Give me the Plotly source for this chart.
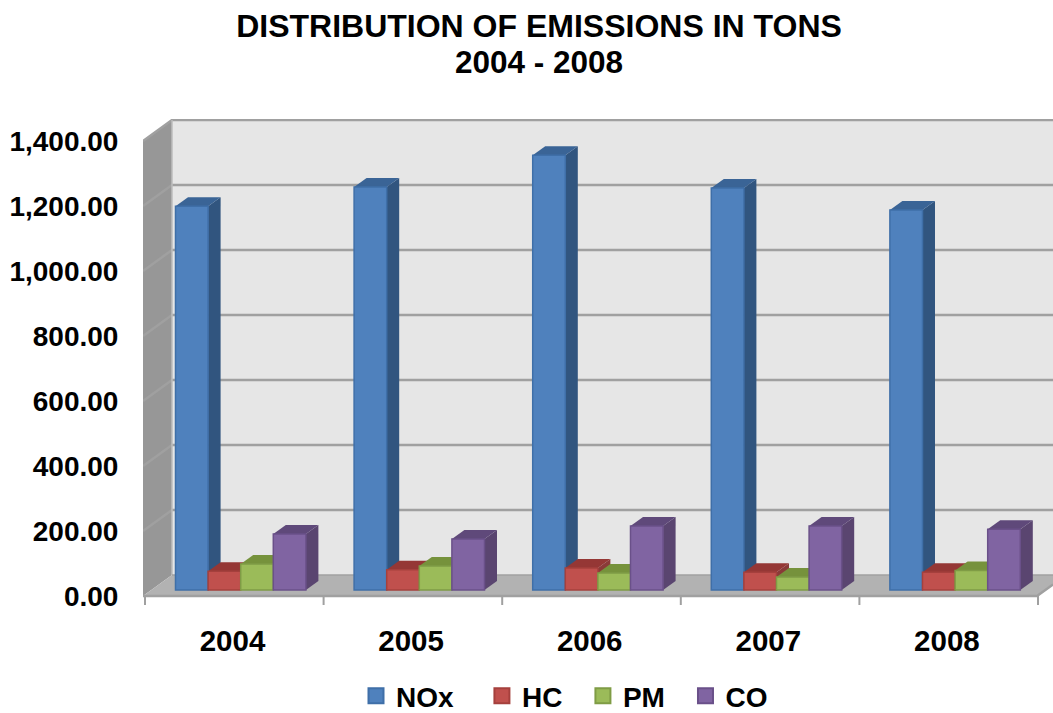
import plotly.graph_objects as go

years = ["2004", "2005", "2006", "2007", "2008"]
series_names = ["NOx", "HC", "PM", "CO"]
legend_pad = [3, 2, 2, 0]
nox = [1181, 1240, 1338, 1237, 1169]
hc = [58, 62, 68, 55, 55]
pm = [80, 74, 52, 40, 60]
co = [172, 157, 197, 197, 187]
y_ticks = [0, 200, 400, 600, 800, 1000, 1200, 1400]
y_tick_labels = ["0.00", "200.00", "400.00", "600.00", "800.00", "1,000.00", "1,200.00", "1,400.00"]

front_colors = ["#4F81BD", "#C0504D", "#9BBB59", "#8064A2"]
edge_colors = ["#3F6FA8", "#A5403D", "#7F9C45", "#6A5089"]
top_colors = ["#3A6496", "#953735", "#76923C", "#5F497A"]
side_colors = ["#31557F", "#8A3A38", "#6A8535", "#5A4570"]

W, H = 1053, 713
L, R, T, B = 143, 1053, 119, 606
PX_X = 178.6
PX_Y = 0.325
X0 = 145
Y0 = 596


def xd(px):
    return (px - X0) / PX_X


ydpx = lambda px: (Y0 - px) / PX_Y

depth_x, depth_y = 27 / PX_X, 21 / PX_Y
bar_dx, bar_dy = 12.5 / PX_X, 9 / PX_Y
bar_w = 32.6 / PX_X
bar_base = 6 / PX_Y
first_bar = 30.5 / PX_X
x_end = xd(R)

fig = go.Figure()


def poly(xs, ys, color, line=None, lw=0):
    fig.add_trace(go.Scatter(x=xs, y=ys, mode="lines", fill="toself", fillcolor=color,
                             line=dict(color=line or color, width=lw), hoverinfo="skip",
                             showlegend=False))


def seg(xs, ys, color="#A0A0A0", lw=2.5):
    fig.add_trace(go.Scatter(x=xs, y=ys, mode="lines", line=dict(color=color, width=lw),
                             hoverinfo="skip", showlegend=False))


top = y_ticks[-1]
# back wall, left wall, floor
poly([depth_x, x_end, x_end, depth_x], [depth_y, depth_y, top + depth_y, top + depth_y], "#E6E6E6")
poly([xd(143), depth_x, depth_x, xd(143)], [0, depth_y, top + depth_y, top], "#979797")
poly([xd(143), depth_x, x_end, x_end, xd(1037)], [0, depth_y, depth_y, depth_y * 0.55, 0], "#B2B2B2")
# gridlines
for v in y_ticks[1:]:
    seg([xd(143), depth_x, x_end], [v, v + depth_y, v + depth_y])
seg([depth_x, depth_x], [depth_y, top + depth_y], "#BDBDBD", 1.5)
seg([depth_x, x_end], [depth_y, depth_y], "#A0A0A0", 1.5)
seg([xd(143), xd(1037), x_end], [0, 0, depth_y * 0.55], "#A0A0A0", 2.5)
# category ticks
for i in range(len(years) + 1):
    seg([i, i], [0, -9 / PX_Y], "#A0A0A0", 2)

# depth faces of the bars, left to right
values = [nox, hc, pm, co]
for i in range(len(years)):
    for k, vals in enumerate(values):
        x1 = i + first_bar + k * bar_w
        x2 = x1 + bar_w
        y1 = bar_base
        y2 = bar_base + vals[i]
        poly([x2, x2 + bar_dx, x2 + bar_dx, x2], [y1, y1 + bar_dy, y2 + bar_dy, y2], side_colors[k])
        poly([x1, x2, x2 + bar_dx, x1 + bar_dx], [y2, y2, y2 + bar_dy, y2 + bar_dy], top_colors[k])

# front faces on an overlaid pair of axes, so they cover the depth faces
for k, vals in enumerate(values):
    fig.add_trace(go.Bar(
        x=[i + first_bar + (k + 0.5) * bar_w for i in range(len(years))],
        y=vals, base=bar_base, width=bar_w, name=series_names[k],
        marker=dict(color=front_colors[k], line=dict(color=edge_colors[k], width=1.5)),
        xaxis="x2", yaxis="y2", showlegend=False))

# legend entries
for k, name in enumerate(series_names):
    fig.add_trace(go.Scatter(x=[None], y=[None], mode="markers",
                             name=name + "\u00a0" * legend_pad[k],
                             marker=dict(symbol="square", size=15, color=front_colors[k],
                                         line=dict(color=edge_colors[k], width=2))))

font = "Liberation Sans, Arial, sans-serif"
x_range = [xd(L), x_end]
y_range = [ydpx(B), ydpx(T)]
fig.update_layout(
    template="none",
    width=W, height=H, autosize=False,
    margin=dict(l=L, r=W - R, t=T, b=H - B, pad=0),
    paper_bgcolor="white", plot_bgcolor="white",
    barmode="overlay",
    font=dict(family=font, color="black", size=28),
    title=dict(text="<b>DISTRIBUTION OF EMISSIONS IN TONS</b>",
               x=539 / W, xanchor="center", y=1 - 26 / H, yanchor="middle",
               font=dict(size=32, family=font, color="black")),
    annotations=[dict(text="<b>2004 - 2008</b>", xref="paper", yref="paper",
                      x=(539 - L) / (R - L), y=(B - 62) / (B - T),
                      xanchor="center", yanchor="middle", showarrow=False,
                      font=dict(size=31.5, family=font, color="black"))],
    xaxis=dict(range=x_range, showgrid=False, zeroline=False, showline=False, automargin=False,
               tickmode="array", tickvals=[i + 0.49 for i in range(len(years))],
               ticktext=[f"<b>{y}</b>" for y in years], ticks="outside", ticklen=9,
               tickcolor="rgba(0,0,0,0)", tickfont=dict(size=29.5, family=font)),
    yaxis=dict(range=y_range, showgrid=False, zeroline=False, showline=False, automargin=False,
               tickmode="array", tickvals=y_ticks,
               ticktext=[f"<b>{t}</b>" for t in y_tick_labels], ticks="outside", ticklen=18,
               tickcolor="rgba(0,0,0,0)", tickfont=dict(size=28, family=font)),
    xaxis2=dict(range=x_range, overlaying="x", visible=False, matches="x"),
    yaxis2=dict(range=y_range, overlaying="y", visible=False, matches="y"),
    legend=dict(orientation="h", x=356 / W, xanchor="left", xref="container",
                y=1 - 696 / H, yanchor="middle", yref="container",
                font=dict(size=28, family=font, weight="bold"),
                itemwidth=30, bgcolor="rgba(0,0,0,0)", itemclick=False, itemdoubleclick=False,
                traceorder="normal"),
)
fig.write_html("out.html", config={"displayModeBar": False},
               post_script="document.body.style.margin='0';")
